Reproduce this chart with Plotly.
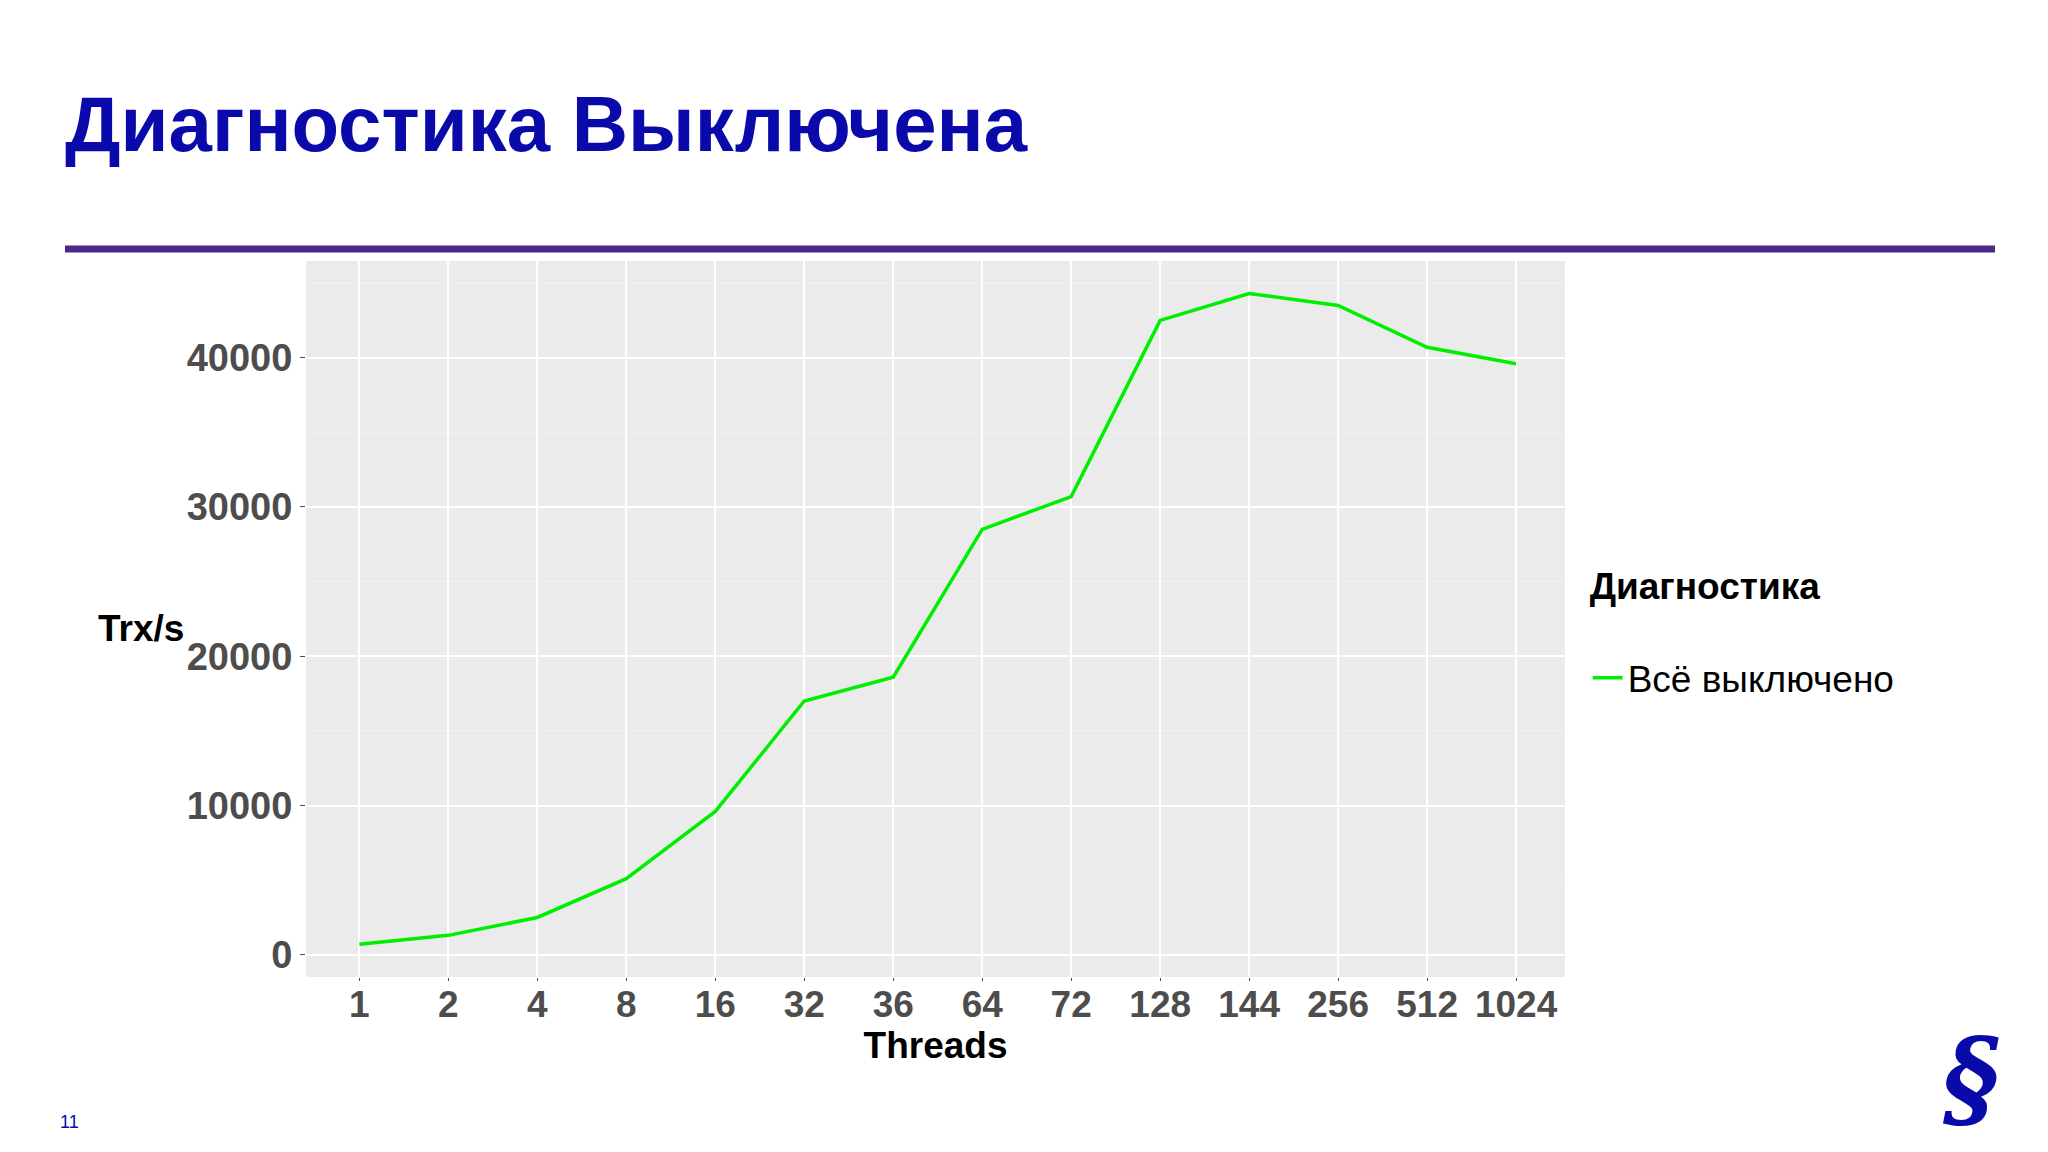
import plotly.graph_objects as go

threads = ["1", "2", "4", "8", "16", "32", "36", "64", "72", "128", "144", "256", "512", "1024"]
trx = [700, 1300, 2500, 5100, 9600, 17000, 18600, 28500, 30700, 42500, 44300, 43500, 40700, 39600]

W, H = 2048, 1152
L, R, T, B = 298, 491, 253, 183
PW, PH = W - L - R, H - T - B


def px(x):
    return (x - L) / PW


def py(y):
    return (H - B - y) / PH


fig = go.Figure()
fig.add_trace(go.Scatter(x=threads, y=trx, mode="lines", name="Всё выключено",
                         line=dict(color="#00EE00", width=3.5)))

fig.update_layout(
    width=W, height=H,
    paper_bgcolor="white", plot_bgcolor="#EBEBEB",
    margin=dict(l=L, r=R, t=T, b=B),
    font=dict(family="Liberation Sans, Arial", color="#4D4D4D"),
    showlegend=True,
    legend=dict(x=1.018, y=0.595, xanchor="left", yanchor="top",
                title=dict(text="<b>Диагностика</b><br> ", font=dict(size=37, color="black")),
                font=dict(size=37, color="black"), bgcolor="rgba(0,0,0,0)"),
)
fig.update_xaxes(type="category", range=[-0.6, 13.55], showgrid=True, gridcolor="white", gridwidth=2,
                 ticks="outside", ticklen=3, tickcolor="#4D4D4D", ticklabelstandoff=-8,
                 tickvals=threads, ticktext=["<b>%s</b>" % t for t in threads],
                 tickfont=dict(size=37, color="#4D4D4D"),
                 title=dict(text="<b>Threads</b>", font=dict(size=37, color="black"), standoff=0),
                 zeroline=False)
fig.update_yaxes(range=[-1490, 46480], tickvals=[0, 10000, 20000, 30000, 40000],
                 ticktext=["<b>0</b>", "<b>10000</b>", "<b>20000</b>", "<b>30000</b>", "<b>40000</b>"],
                 showgrid=True, gridcolor="white", gridwidth=2, zeroline=False,
                 ticks="outside", ticklen=5, tickcolor="#4D4D4D",
                 tickfont=dict(size=38, color="#4D4D4D"))

# minor grid lines
for v in [5000, 15000, 25000, 35000, 45000]:
    fig.add_hline(y=v, line=dict(color="#F3F3F3", width=1), layer="below")

fig.add_annotation(text="<b>Trx/s</b>", xref="paper", yref="paper", x=px(88), y=py(620),
                   showarrow=False, xanchor="left", yanchor="middle", font=dict(size=37, color="black"))
fig.add_annotation(text="<b>Диагностика Выключена</b>", xref="paper", yref="paper",
                   x=px(55), y=py(116), xanchor="left", yanchor="middle",
                   showarrow=False, font=dict(size=78, color="#0A0AAA", family="Liberation Sans"))
fig.add_shape(type="line", xref="paper", yref="paper",
              x0=px(57), x1=px(1987), y0=py(241), y1=py(241),
              line=dict(color="#4B2A8A", width=7))
fig.add_annotation(text="11", xref="paper", yref="paper", x=px(50), y=py(1114),
                   xanchor="left", yanchor="middle", showarrow=False,
                   font=dict(size=18, color="#0A0AAA"))
fig.add_annotation(text="<b><i>§</i></b>", xref="paper", yref="paper", x=px(1962), y=py(1070),
                   xanchor="center", yanchor="middle", showarrow=False,
                   font=dict(size=108, color="#0A0AAA", family="DejaVu Serif"))

fig.write_html("out.html")
